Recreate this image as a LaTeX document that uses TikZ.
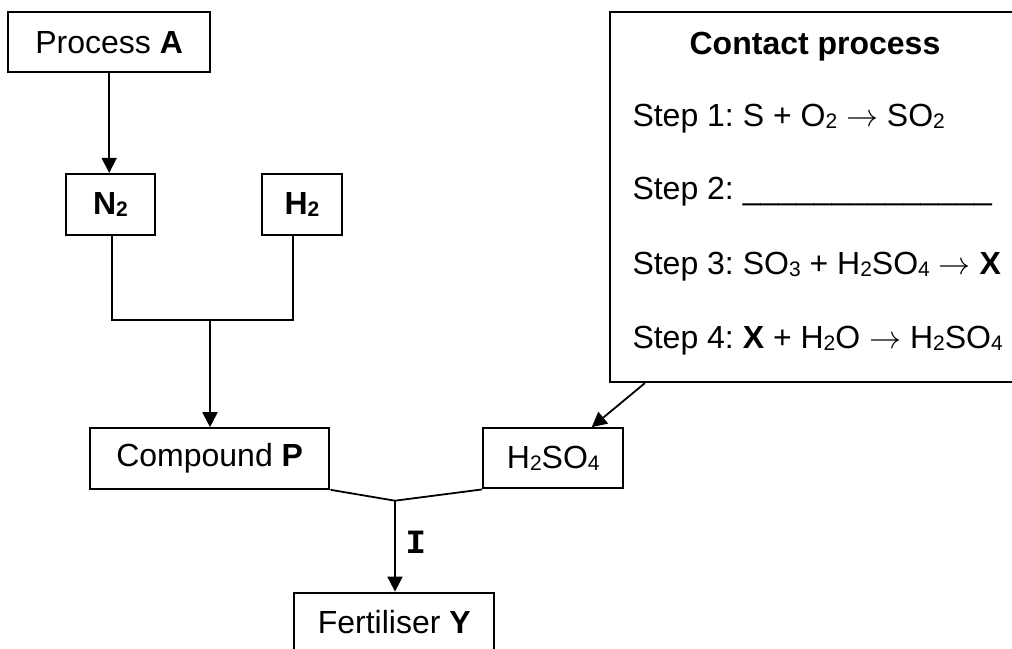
\RequirePackage{fix-cm}
\documentclass[tikz,border=0pt]{standalone}
\usepackage{fontspec}
\setmainfont{Liberation Sans}
\newfontfamily\labelmono{Liberation Mono}
\usetikzlibrary{arrows.meta}
\newcommand\chemsub[1]{\raisebox{-0.07em}{\fontsize{21}{21}\selectfont #1}}
\newcommand\yields{\ensuremath{\rightarrow}}
\frenchspacing
\begin{document}
\begin{tikzpicture}[x=1pt,y=-1pt,
  box/.style={draw,line width=2.2pt,inner sep=0pt,font=\fontsize{32}{38}\selectfont},
  conn/.style={line width=1.8pt},
  arr/.style={conn,-{Triangle[length=15pt,width=15pt]}},
  steptext/.style={anchor=base west,inner sep=0pt,font=\fontsize{32}{38}\selectfont}]
\useasboundingbox (0,0) rectangle (1012,648);
% boxes
\node[box,minimum width=201.7pt,minimum height=59.7pt] (procA) at (109.2,42.2) {Process \textbf{A}};
\node[box,minimum width=89pt,minimum height=61pt] (n2) at (110.5,204.5) {\textbf{N\chemsub{2}}};
\node[box,minimum width=79.7pt,minimum height=61pt] (h2) at (302,204.5) {\textbf{H\chemsub{2}}};
\node[box,minimum width=239.3pt,minimum height=60.4pt] (compP) at (209.7,458.5) {Compound \textbf{P}};
\node[box,minimum width=140pt,minimum height=60pt] (hso) at (553.3,458.3) {H\chemsub{2}SO\chemsub{4}};
\node[box,minimum width=200pt,minimum height=59.6pt] (fert) at (394.3,622.5) {Fertiliser \textbf{Y}};
\node[box,minimum width=406pt,minimum height=370pt] (contact) at (813,197) {};
% contact process text
\node[inner sep=0pt,anchor=base,font=\fontsize{32}{38}\selectfont\bfseries] (ctitle) at (815,54.5) {Contact process};
\node[steptext] (s1) at (632.3,126.5) {Step 1: S + O\chemsub{2} \yields{} SO\chemsub{2}};
\node[steptext] (s2) at (632.3,199) {Step 2: \_\_\_\_\_\_\_\_\_\_\_\_\_\_};
\node[steptext] (s3) at (632.3,274.5) {Step 3: SO\chemsub{3} + H\chemsub{2}SO\chemsub{4} \yields{} \textbf{X}};
\node[steptext] (s4) at (632.3,348.5) {Step 4: \textbf{X} + H\chemsub{2}O \yields{} H\chemsub{2}SO\chemsub{4}};
% connectors
\draw[arr] (procA.south) -- (procA.south |- n2.north);
\coordinate (j) at (210,320);
\draw[conn] ([xshift=1.5pt]n2.south) |- (j) -| ([xshift=-9pt]h2.south);
\draw[arr] (j) -- (j |- compP.north);
\draw[arr] ([xshift=36pt]contact.south west) -- ([xshift=38.4pt]hso.north);
\coordinate (m) at (395,500.7);
\draw[conn] (compP.south east) -- (m) -- (hso.south west);
\draw[arr] (m) -- (m |- fert.north);
\node[inner sep=0pt,font=\fontsize{34}{34}\selectfont\labelmono\bfseries] (lblI) at (415.7,542.3) {I};
\end{tikzpicture}
\end{document}
